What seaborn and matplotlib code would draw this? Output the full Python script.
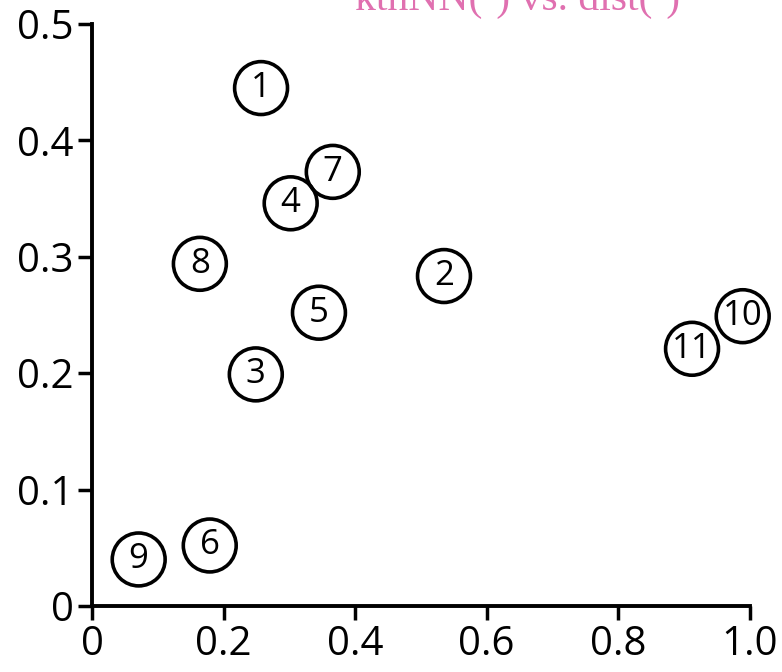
import numpy as np
import pandas as pd
import matplotlib
matplotlib.use("Agg")
import matplotlib.pyplot as plt
import seaborn as sns

labels = ["1", "2", "3", "4", "5", "6", "7", "8", "9", "10", "11"]
x_vals = [0.257, 0.535, 0.249, 0.302, 0.345, 0.179, 0.366, 0.164, 0.071, 0.989, 0.912]
y_vals = [0.445, 0.2835, 0.199, 0.346, 0.252, 0.052, 0.373, 0.294, 0.040, 0.249, 0.221]
x_ticks = [0, 0.2, 0.4, 0.6, 0.8, 1.0]
x_ticklabels = ["0", "0.2", "0.4", "0.6", "0.8", "1.0"]
y_ticks = [0, 0.1, 0.2, 0.3, 0.4, 0.5]
y_ticklabels = ["0", "0.1", "0.2", "0.3", "0.4", "0.5"]

df = pd.DataFrame({"x": x_vals, "y": y_vals, "label": labels})

sns.set_style("ticks")
plt.rcParams["font.family"] = ["Open Sans", "DejaVu Sans"]

fig = plt.figure(figsize=(7.82, 6.72), dpi=100)
ax = fig.add_axes([0.1176, 0.0982, 0.8414, 0.866])

sns.scatterplot(data=df, x="x", y="y", ax=ax, s=1450, facecolor="none",
                edgecolor="black", linewidth=2.6, clip_on=False, legend=False)
for _, row in df.iterrows():
    ax.text(row["x"], row["y"], row["label"], ha="center", va="center",
            fontsize=25, color="black", clip_on=False)

ax.set_xlim(0, 1.0)
ax.set_ylim(0, 0.5)
ax.set_xticks(x_ticks)
ax.set_xticklabels(x_ticklabels)
ax.set_yticks(y_ticks)
ax.set_yticklabels(y_ticklabels)
ax.set_xlabel("")
ax.set_ylabel("")
ax.tick_params(axis="both", direction="out", length=10, width=2.5,
               labelsize=29, pad=3, color="black", labelcolor="black")
for side in ["left", "bottom"]:
    ax.spines[side].set_linewidth(2.8)
    ax.spines[side].set_color("black")
sns.despine(ax=ax)

# title, mostly cut off at the top edge as in the original
fig.text(355 / 782, 1 - 10 / 672, "kthNN(·) vs. dist(·)", color="#e070b0",
         fontsize=30, family="Liberation Serif", ha="left", va="baseline")

fig.savefig("out.png", dpi=100)
